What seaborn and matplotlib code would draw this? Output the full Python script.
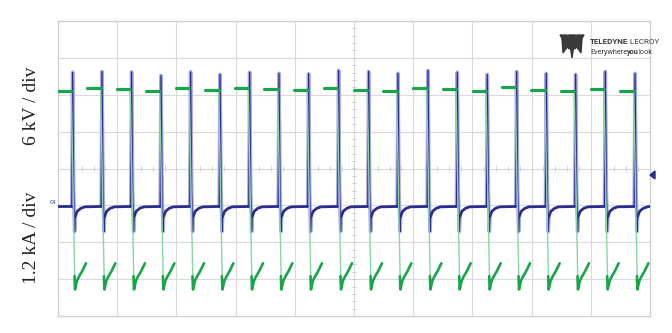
import numpy as np
import pandas as pd
import matplotlib
matplotlib.use("Agg")
import matplotlib.pyplot as plt
import seaborn as sns
from matplotlib.patches import Polygon

# ---------------- data (divisions: x 0..10, y -4..4) ----------------
# falling-edge times of the 20 pulses (div)
edge_times = [0.225, 0.721, 1.221, 1.718, 2.218, 2.715, 3.215, 3.711, 4.211, 4.718,
              5.225, 5.721, 6.228, 6.723, 7.230, 7.725, 8.226, 8.721, 9.223, 9.725]
# voltage high level before each edge (div)
v_high = [2.10, 2.17, 2.16, 2.11, 2.17, 2.12, 2.17, 2.16, 2.12, 2.19,
          2.14, 2.10, 2.19, 2.16, 2.11, 2.20, 2.13, 2.09, 2.16, 2.11]
# current spike peak for each pulse (div)
i_peak = [2.61, 2.63, 2.62, 2.52, 2.62, 2.55, 2.61, 2.58, 2.57, 2.66,
          2.63, 2.58, 2.66, 2.61, 2.55, 2.63, 2.58, 2.55, 2.63, 2.58]
# voltage flat-top length before edge (div)
flat_len = 0.228
# voltage fall (thin trace): offsets after edge and values (None -> v_high)
v_fall_dt = [0.000, 0.030, 0.0625]
v_fall_v = [None, -0.60, -3.28]
# voltage recovery "check mark" (thick trace)
v_rec_dt = [0.054, 0.0625, 0.096, 0.130, 0.181, 0.248]
v_rec_v = [-2.92, -3.28, -3.04, -2.93, -2.79, -2.57]
# current: baseline, fast spike (thin) and recovery (thick)
i_base = -1.03
i_spk_dt = [0.008, 0.022, 0.040, 0.056, 0.066]
i_spk_v = [None, "peak", -0.60, -1.71, -1.30]
i_rec_dt = [0.066, 0.100, 0.160, 0.230]
i_rec_v = [-1.30, -1.16, -1.08, -1.04]

GREEN = "#19a54a"
LGREEN = "#86d6a6"
BLUE = "#2b2b90"
LBLUE = "#a8a8e8"

# ---------------- build tables ----------------
rows_flat, rows_fall, rows_rec = [], [], []
rows_spk, rows_ib = [], []
rows_ib += [(0.0, i_base, -1), (edge_times[0] + i_spk_dt[0], i_base, -1)]
for k, (t0, vh, ip) in enumerate(zip(edge_times, v_high, i_peak)):
    rows_flat += [(t0 - flat_len, vh, k), (t0, vh, k)]
    for dt, v in zip(v_fall_dt, v_fall_v):
        rows_fall.append((t0 + dt, vh if v is None else v, k))
    for dt, v in zip(v_rec_dt, v_rec_v):
        rows_rec.append((t0 + dt, v, k))
    for dt, v in zip(i_spk_dt, i_spk_v):
        val = i_base if v is None else (ip if v == "peak" else v)
        rows_spk.append((t0 + dt, val, k))
    for dt, v in zip(i_rec_dt, i_rec_v):
        rows_ib.append((t0 + dt, v, k))
    t_next = edge_times[k + 1] + i_spk_dt[0] if k + 1 < len(edge_times) else 10.0
    rows_ib.append((t_next, i_base, k))

cols = ["t", "v", "seg"]
df_flat = pd.DataFrame(rows_flat, columns=cols)
df_fall = pd.DataFrame(rows_fall, columns=cols)
df_rec = pd.DataFrame(rows_rec, columns=cols)
df_spk = pd.DataFrame(rows_spk, columns=cols)
df_ib = pd.DataFrame(rows_ib, columns=cols)

# ---------------- figure ----------------
sns.set_theme(style="white")
plt.rcParams["font.family"] = ["DejaVu Sans"]
fig = plt.figure(figsize=(6.72, 3.33), dpi=100)
ax = fig.add_axes([58 / 672, 17 / 333, 592 / 672, 295 / 333])
ax.set_xlim(0, 10)
ax.set_ylim(-4, 4)

gcol = "#dadada"
for x in range(1, 10):
    ax.axvline(x, color=gcol, lw=0.8, zorder=0)
for y in range(-3, 4):
    ax.axhline(y, color=gcol, lw=0.8, zorder=0)
# center graticule ticks
for x in np.arange(0.2, 10, 0.2):
    ax.plot([x, x], [-0.06, 0.06], color="#cccccc", lw=0.6, zorder=0)
for y in np.arange(-3.8, 4, 0.2):
    ax.plot([4.965, 5.035], [y, y], color="#cccccc", lw=0.6, zorder=0)
for s in ax.spines.values():
    s.set_color("#d0d0d0")
    s.set_linewidth(1.0)
ax.set_xticks([])
ax.set_yticks([])

common = dict(x="t", y="v", units="seg", estimator=None, sort=False, ax=ax, legend=False)
# current
sns.lineplot(data=df_spk, color=LBLUE, lw=2.6, zorder=2, **common)
sns.lineplot(data=df_spk, color=BLUE, lw=0.9, zorder=3, **common)
sns.lineplot(data=df_ib, color=BLUE, lw=2.0, zorder=3, **common)
# voltage
sns.lineplot(data=df_fall, color=LGREEN, lw=1.0, zorder=4, **common)
sns.lineplot(data=df_flat, color=GREEN, lw=2.3, zorder=5, **common)
sns.lineplot(data=df_rec, color=GREEN, lw=1.9, zorder=5, **common)
ax.set_xlabel("")
ax.set_ylabel("")

# ---------------- annotations ----------------
serif = ["Liberation Serif", "DejaVu Serif"]
fig.text(31 / 672, 1 - 106 / 333, "6 kV / div", rotation=90, ha="center", va="center",
         fontsize=14, family=serif, color="#222222")
fig.text(31 / 672, 1 - 238 / 333, "1.2 kA / div", rotation=90, ha="center", va="center",
         fontsize=14, family=serif, color="#222222")
fig.text(53 / 672, 1 - 203 / 333, "C4", fontsize=3.5, color=BLUE, ha="center", va="center")
# right-side level marker
fig.patches.append(Polygon([[655 / 672, 1 - 171 / 333], [655 / 672, 1 - 179 / 333],
                            [650 / 672, 1 - 175 / 333]], closed=True,
                           transform=fig.transFigure, color=BLUE))

# logo
lg = "#3a3a3a"
def fx(p):
    return p / 672
def fy(p):
    return 1 - p / 333
logo_polys = [
    [(560, 35), (567, 35), (571, 47), (569, 49)],
    [(584, 35), (577, 35), (573, 47), (575, 49)],
    [(568.5, 35), (575.5, 35), (572, 58)],
    [(562, 38), (568, 46), (563, 53)],
    [(582, 38), (576, 46), (581, 53)],
]
for poly in logo_polys:
    fig.patches.append(Polygon([(fx(a), fy(b)) for a, b in poly], closed=True,
                               transform=fig.transFigure, color=lg))
narrow = ["Liberation Sans Narrow", "Roboto", "DejaVu Sans"]
t1 = fig.text(fx(590), fy(42), "TELEDYNE", fontsize=5.8, weight="bold", color=lg,
              family=narrow, va="center", ha="left")
ax.annotate(" LECROY", xy=(1, 0.5), xycoords=t1, fontsize=5.8, color=lg,
            family=narrow, va="center", ha="left", annotation_clip=False)
t3 = fig.text(fx(590), fy(52), "Everywhere", fontsize=5.2, color=lg,
              family=narrow, va="center", ha="left")
t4 = ax.annotate("you", xy=(1, 0.5), xycoords=t3, fontsize=5.2, color=lg, weight="bold",
                 family=narrow, va="center", ha="left", annotation_clip=False)
ax.annotate("look", xy=(1, 0.5), xycoords=t4, fontsize=5.2, color=lg,
            family=narrow, va="center", ha="left", annotation_clip=False)

fig.savefig("out.png", dpi=100)
